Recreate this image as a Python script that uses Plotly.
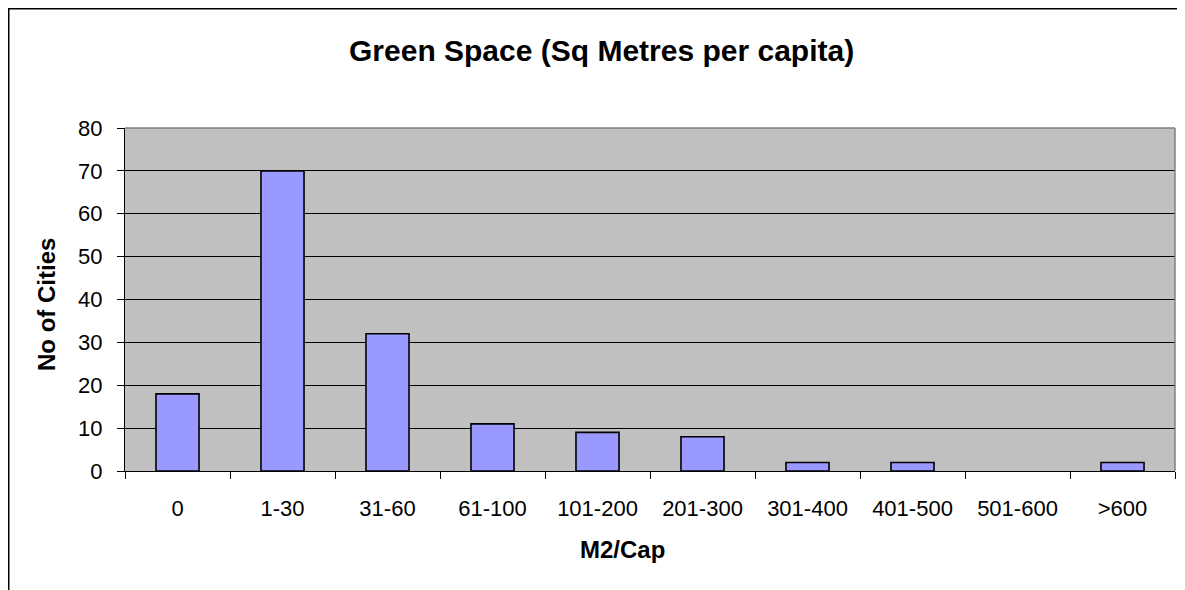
import plotly.graph_objects as go

categories = ["0", "1-30", "31-60", "61-100", "101-200", "201-300", "301-400", "401-500", "501-600", ">600"]
cities = [18, 70, 32, 11, 9, 8, 2, 2, 0, 2]

title_text = "Green Space (Sq Metres per capita)"
x_title = "M2/Cap"
y_title = "No of Cities"

FONT = "Liberation Sans, Arial, sans-serif"

# the page places the figure at (8, 8); positions below are page pixels
OFF = 8
W, H = 1185 - OFF, 590 - OFF
PL, PT, PR, PB = 125, 128, 1175, 471  # plot area in page pixels
L, T = PL - OFF, PT - OFF
R = W - (PR - OFF)
B = H - (PB - OFF)
pw = PR - PL
ph = PB - PT

def px_x(x):
    return (x - PL) / pw

def px_y(y):
    return (PB - y) / ph

fig = go.Figure()
fig.add_trace(go.Bar(
    x=categories, y=cities, width=0.41,
    marker=dict(color="#9999FF",
                line=dict(color="black", width=[1.6 if v > 0 else 0 for v in cities])),
    hoverinfo="x+y",
))

fig.update_layout(
    width=W, height=H,
    margin=dict(l=L, r=R, t=T, b=B, pad=0),
    paper_bgcolor="white", plot_bgcolor="#C0C0C0",
    showlegend=False,
    font=dict(family=FONT, color="black", size=22),
    xaxis=dict(
        type="category", showgrid=False, tickson="boundaries",
        ticks="outside", ticklen=7, tickcolor="black", tickwidth=1,
        showline=True, linecolor="black", linewidth=1,
        tickfont=dict(size=22), ticklabelstandoff=18,
        range=[-0.5, 9.5], zeroline=False,
    ),
    yaxis=dict(
        range=[0, 80], dtick=10, showgrid=True, gridcolor="black", gridwidth=1,
        ticks="outside", ticklen=7, tickcolor="black", tickwidth=1,
        showline=True, linecolor="black", linewidth=1,
        tickfont=dict(size=22), ticklabelstandoff=10, zeroline=False,
    ),
    shapes=[
        dict(type="line", xref="paper", yref="paper", x0=0, x1=1, y0=1, y1=1,
             line=dict(color="#808080", width=1.5)),
        dict(type="line", xref="paper", yref="paper", x0=1, x1=1, y0=0, y1=1,
             line=dict(color="#808080", width=1.5)),
        dict(type="rect", xref="paper", yref="paper",
             x0=px_x(8.75), x1=px_x(1220), y0=px_y(620), y1=px_y(8.75),
             line=dict(color="black", width=1.5), fillcolor="rgba(0,0,0,0)", layer="above"),
    ],
    annotations=[
        dict(text="<b>" + title_text + "</b>", xref="paper", yref="paper",
             x=px_x(601), y=px_y(50), showarrow=False, xanchor="center", yanchor="middle",
             font=dict(size=30)),
        dict(text="<b>" + x_title + "</b>", xref="paper", yref="paper",
             x=px_x(622), y=px_y(549), showarrow=False, xanchor="center", yanchor="middle",
             font=dict(size=24)),
        dict(text="<b>" + y_title + "</b>", xref="paper", yref="paper",
             x=px_x(46), y=px_y(305), showarrow=False, xanchor="center", yanchor="middle",
             textangle=-90, font=dict(size=24)),
    ],
)

fig.write_html("out.html")
